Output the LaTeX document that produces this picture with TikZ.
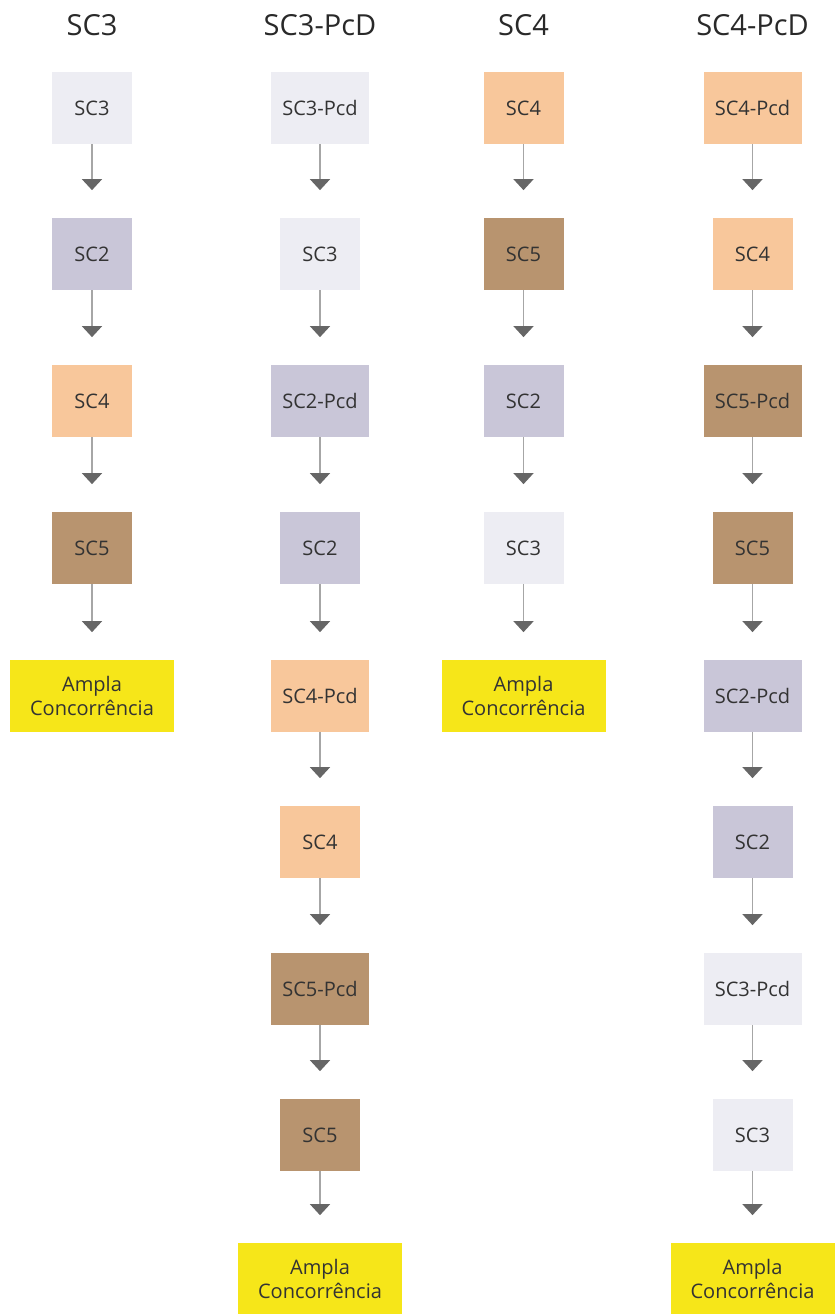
\documentclass[tikz,border=0pt]{standalone}
\usepackage{fontspec}
\setmainfont{Open Sans}
\usetikzlibrary{arrows.meta}
\definecolor{cthree}{HTML}{EDEDF3}
\definecolor{ctwo}{HTML}{C9C6D8}
\definecolor{cfour}{HTML}{F8C79B}
\definecolor{cfive}{HTML}{B8946F}
\definecolor{cfinal}{HTML}{F6E619}
\definecolor{ctext}{HTML}{333333}
\definecolor{cline}{HTML}{A6A6A6}
\definecolor{ctip}{HTML}{666666}
\tikzset{
  box/.style={inner sep=0pt, align=center, minimum width=1.60cm, minimum height=1.44cm, text=ctext, font=\fontsize{11.4}{13.7}\selectfont},
  kwide/.style={minimum width=1.96cm},
  kthree/.style={box, fill=cthree}, ktwo/.style={box, fill=ctwo},
  kfour/.style={box, fill=cfour}, kfive/.style={box, fill=cfive},
  kfinal/.style={box, fill=cfinal, minimum width=3.28cm},
  khead/.style={inner sep=0pt, text=ctext!80!black, font=\fontsize{16.5}{18}\selectfont},
  flow/.style={-{Triangle[width=0.40cm, length=0.22cm, color=ctip]}, draw=cline, line width=0.85pt, shorten >=0.55cm},
}

\begin{document}
\begin{tikzpicture}
    \useasboundingbox (0,0) rectangle (16.68,-26.28);
    % headers
    \node[khead] (hsc3) at (1.84,-0.51) {SC3};
    \node[khead] (hsc3p) at (6.40,-0.51) {SC3-PcD};
    \node[khead] (hsc4) at (10.47,-0.51) {SC4};
    \node[khead] (hsc4p) at (15.05,-0.51) {SC4-PcD};
    % SC3
    \node[kthree] (asc3) at (1.84,-2.16) {SC3};
    \node[ktwo] (asc2) at (1.84,-5.08) {SC2};
    \node[kfour] (asc4) at (1.84,-8.02) {SC4};
    \node[kfive] (asc5) at (1.84,-10.96) {SC5};
    \node[kfinal] (aend) at (1.84,-13.92) {Ampla\\Concorrência};
    \draw[flow] (asc3) -- (asc2);
    \draw[flow] (asc2) -- (asc4);
    \draw[flow] (asc4) -- (asc5);
    \draw[flow] (asc5) -- (aend);
    % SC3-PcD
    \node[kthree, kwide] (bsc3p) at (6.40,-2.16) {SC3-Pcd};
    \node[kthree] (bsc3) at (6.40,-5.08) {SC3};
    \node[ktwo, kwide] (bsc2p) at (6.40,-8.02) {SC2-Pcd};
    \node[ktwo] (bsc2) at (6.40,-10.96) {SC2};
    \node[kfour, kwide] (bsc4p) at (6.40,-13.92) {SC4-Pcd};
    \node[kfour] (bsc4) at (6.40,-16.84) {SC4};
    \node[kfive, kwide] (bsc5p) at (6.40,-19.78) {SC5-Pcd};
    \node[kfive] (bsc5) at (6.40,-22.70) {SC5};
    \node[kfinal] (bend) at (6.40,-25.58) {Ampla\\Concorrência};
    \draw[flow] (bsc3p) -- (bsc3);
    \draw[flow] (bsc3) -- (bsc2p);
    \draw[flow] (bsc2p) -- (bsc2);
    \draw[flow] (bsc2) -- (bsc4p);
    \draw[flow] (bsc4p) -- (bsc4);
    \draw[flow] (bsc4) -- (bsc5p);
    \draw[flow] (bsc5p) -- (bsc5);
    \draw[flow] (bsc5) -- (bend);
    % SC4
    \node[kfour] (csc4) at (10.47,-2.16) {SC4};
    \node[kfive] (csc5) at (10.47,-5.08) {SC5};
    \node[ktwo] (csc2) at (10.47,-8.02) {SC2};
    \node[kthree] (csc3) at (10.47,-10.96) {SC3};
    \node[kfinal] (cend) at (10.47,-13.92) {Ampla\\Concorrência};
    \draw[flow] (csc4) -- (csc5);
    \draw[flow] (csc5) -- (csc2);
    \draw[flow] (csc2) -- (csc3);
    \draw[flow] (csc3) -- (cend);
    % SC4-PcD
    \node[kfour, kwide] (dsc4p) at (15.05,-2.16) {SC4-Pcd};
    \node[kfour] (dsc4) at (15.05,-5.08) {SC4};
    \node[kfive, kwide] (dsc5p) at (15.05,-8.02) {SC5-Pcd};
    \node[kfive] (dsc5) at (15.05,-10.96) {SC5};
    \node[ktwo, kwide] (dsc2p) at (15.05,-13.92) {SC2-Pcd};
    \node[ktwo] (dsc2) at (15.05,-16.84) {SC2};
    \node[kthree, kwide] (dsc3p) at (15.05,-19.78) {SC3-Pcd};
    \node[kthree] (dsc3) at (15.05,-22.70) {SC3};
    \node[kfinal] (dend) at (15.05,-25.58) {Ampla\\Concorrência};
    \draw[flow] (dsc4p) -- (dsc4);
    \draw[flow] (dsc4) -- (dsc5p);
    \draw[flow] (dsc5p) -- (dsc5);
    \draw[flow] (dsc5) -- (dsc2p);
    \draw[flow] (dsc2p) -- (dsc2);
    \draw[flow] (dsc2) -- (dsc3p);
    \draw[flow] (dsc3p) -- (dsc3);
    \draw[flow] (dsc3) -- (dend);
\end{tikzpicture}
\end{document}
